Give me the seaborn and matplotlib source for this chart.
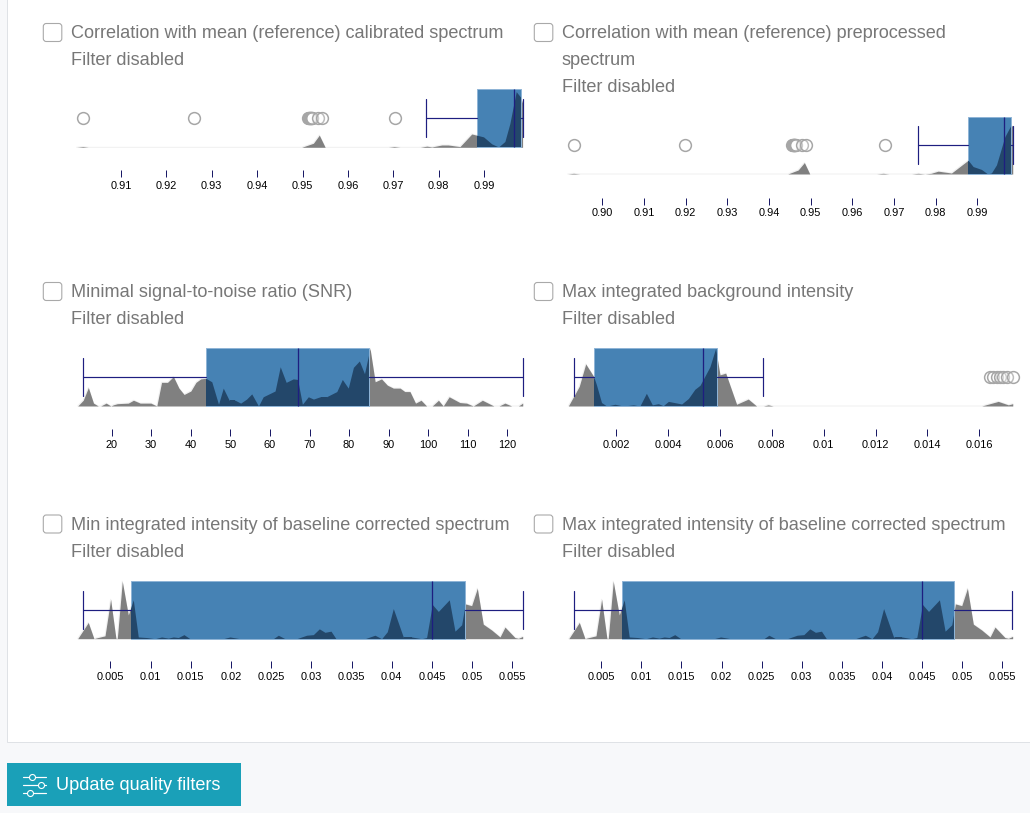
import matplotlib
matplotlib.use("Agg")
import matplotlib.pyplot as plt
from matplotlib.patches import Rectangle, FancyBboxPatch
import seaborn as sns

sns.set_theme(style="white")
plt.rcParams['font.family'] = ['Liberation Sans', 'DejaVu Sans']

# ---------- data ----------
corr_cal_x = [.9002,.9016,.9028,.9498,.9524,.9537,.9550,.9689,.9702,.9715,.9759,.9774,.9785,.9807,.9821,.9847,.9873,.9899,.9917,.9932,.9946,.9957,.9971,.9981,.9985,.9985]
corr_cal_y = [0,.012,0,0,.07,.21,0,0,.012,0,0,.02,.006,.04,.04,.012,.23,.18,.06,.006,.10,.41,.96,.86,.76,0]
corr_cal_box = dict(whislo=.9772, q1=.9885, med=.9967, q3=.9981, whishi=.9985)
corr_cal_out = [.9016,.9261,.9513,.9514,.9515,.9516,.9517,.9518,.9519,.9520,.9522,.9535,.9542,.9703]
corr_cal_ticks = [.91,.92,.93,.94,.95,.96,.97,.98,.99]
corr_cal_labels = ['0.91','0.92','0.93','0.94','0.95','0.96','0.97','0.98','0.99']

corr_pre_x = [.8917,.8931,.8946,.9445,.9470,.9485,.9498,.9658,.9674,.9688,.9742,.9758,.9774,.9789,.9806,.9838,.9878,.9890,.9910,.9925,.9934,.9946,.9966,.9981,.9985,.9985]
corr_pre_y = [0,.012,0,0,.07,.20,0,0,.012,0,0,.012,0,.012,.05,.017,.24,.13,.08,0,.02,.16,.65,.855,.83,0]
corr_pre_box = dict(whislo=.9757, q1=.9878, med=.9965, q3=.9982, whishi=.9985)
corr_pre_out = [.8931,.9198,.9456,.9457,.9458,.9459,.9460,.9461,.9462,.9463,.9465,.9480,.9488,.9678]
corr_pre_ticks = [.90,.91,.92,.93,.94,.95,.96,.97,.98,.99]
corr_pre_labels = ['0.90','0.91','0.92','0.93','0.94','0.95','0.96','0.97','0.98','0.99']

snr_x = [11.4,12.8,14.1,15.4,16.6,17.2,18.6,19.8,20.4,21.4,24.2,25.5,27.2,29.9,31.4,32.6,34.1,35.6,37.0,38.3,40.0,41.3,42.5,43.8,45.3,47.0,48.2,49.7,51.2,52.6,54.1,55.4,57.1,58.3,61.3,62.6,64.1,65.9,67.0,68.2,69.7,71.0,72.7,74.3,76.9,78.3,79.8,81.1,82.6,83.9,85.3,86.6,88.2,89.7,91.2,92.9,94.1,95.4,96.8,98.2,99.6,101.0,102.6,103.8,105.3,108.0,109.7,111.4,113.7,116.6,117.9,119.4,121.1,122.8,123.9,123.9]
snr_y = [0,.10,.32,.05,0,0,.05,0,.02,.04,.05,.10,.05,.05,0,.41,.41,.51,.31,.20,.26,.41,.47,.48,.42,.03,.31,.10,.10,.05,.12,.21,0,.16,.26,.68,.41,.47,.46,.03,.16,.12,.16,.16,.25,.46,.31,.67,.78,.56,1.0,.42,.47,.36,.31,.31,.25,.25,.05,.10,0,0,.10,0,.16,.06,.05,0,.10,0,0,.05,0,0,.05,0]
snr_box = dict(whislo=12.75, q1=43.8, med=67.0, q3=85.0, whishi=123.9)
snr_out = []
snr_ticks = [20,30,40,50,60,70,80,90,100,110,120]
snr_labels = ['20','30','40','50','60','70','80','90','100','110','120']

bg_x = [.00015,.00057,.00082,.00113,.00124,.00143,.00163,.00195,.00227,.00266,.00291,.00316,.00339,.00362,.00381,.00401,.00452,.00478,.00503,.00523,.00561,.00583,.006,.00622,.00664,.00709,.00741,.00767,.00786,.00805,.01609,.01673,.01712,.01729,.01729]
bg_y = [0,.34,.73,.51,.36,.06,0,.03,0,.02,0,.22,.02,.04,.006,.08,.035,.13,.29,.36,.68,1.0,.54,.57,.03,.12,0,0,.02,0,0,.08,.02,.04,0]
bg_box = dict(whislo=.00035, q1=.00113, med=.00536, q3=.00587, whishi=.00766)
bg_out = [.01641,.01654,.01667,.0168,.01692,.01705,.01731]
bg_ticks = [.002,.004,.006,.008,.01,.012,.014,.016]
bg_labels = ['0.002','0.004','0.006','0.008','0.01','0.012','0.014','0.016']

base_x = [.00094,.00226,.00297,.00318,.00434,.00504,.0057,.00587,.00649,.00724,.00786,.00848,.00952,.01056,.01138,.01221,.01284,.01346,.01416,.01491,.01905,.01988,.02113,.02527,.0259,.02673,.02818,.02942,.03025,.031,.0317,.03245,.03307,.03668,.03792,.03875,.03945,.0402,.04144,.04248,.04372,.04434,.04505,.0458,.04716,.04787,.0487,.04915,.04994,.05065,.05139,.05243,.05347,.05409,.05533,.05575,.05629,.05629]
base_y = [0,.28,0,.01,.05,.68,.006,.006,.99,.41,.67,.03,.02,0,.03,.01,.03,.02,.07,0,0,.03,0,0,.06,0,0,.06,.07,.17,.11,.13,0,0,.06,0,.12,.52,.03,.03,0,.02,.59,.47,.67,.13,.24,.60,.57,.87,.25,.15,.03,.20,.02,.006,.04,0]
base_min_box = dict(whislo=.0016, q1=.00761, med=.04505, q3=.04915, whishi=.05629)
base_max_box = dict(whislo=.0016, q1=.00757, med=.04493, q3=.04903, whishi=.05616)
base_out = []
base_ticks = [.005,.01,.015,.02,.025,.03,.035,.04,.045,.05,.055]
base_labels = ['0.005','0.01','0.015','0.02','0.025','0.03','0.035','0.04','0.045','0.05','0.055']

titles = [
    (["Correlation with mean (reference) calibrated spectrum", "Filter disabled"], 43.3, 71, 33.5),
    (["Correlation with mean (reference) preprocessed", "spectrum", "Filter disabled"], 534.3, 561.5, 33.5),
    (["Minimal signal-to-noise ratio (SNR)", "Filter disabled"], 43.3, 71, 292.5),
    (["Max integrated background intensity", "Filter disabled"], 534.3, 561.5, 292.5),
    (["Min integrated intensity of baseline corrected spectrum", "Filter disabled"], 43.3, 71, 525),
    (["Max integrated intensity of baseline corrected spectrum", "Filter disabled"], 534.3, 561.5, 525),
]
button_label = "Update quality filters"

# ---------- layout ----------
W, H = 1030, 813
PX_PT = 72 / 100
GREY, DARK, BLUE, EDGE, NAVY = '#808080', '#23476a', '#4682b4', '#8fb4d6', '#1e1e80'
fig = plt.figure(figsize=(W / 100, H / 100), dpi=100, facecolor='#f7f8fa')

page = fig.add_axes([0, 0, 1, 1], zorder=0)
page.set_xlim(0, W); page.set_ylim(H, 0); page.axis('off')
page.add_patch(Rectangle((7, -2), W, 744, fc='white', ec='#dfe2e6', lw=1 * PX_PT))

for lines, cb_x, tx, y0 in titles:
    page.add_patch(FancyBboxPatch((cb_x + 2, y0 - 8), 14.5, 14, boxstyle="round,pad=2,rounding_size=3",
                                  fc='white', ec='#a9a9a9', lw=1.1 * PX_PT))
    for i, line in enumerate(lines):
        page.text(tx, y0 + i * 27, line, fontsize=18.2 * PX_PT, color='#777777', va='center', ha='left')

page.add_patch(Rectangle((7, 763), 234, 43, fc='#1aa0b8', ec='none'))
page.text(56, 785.5, button_label, fontsize=18.2 * PX_PT, color='white', va='center', ha='left')
for y_i, x_c in [(777, 32), (785, 40.7), (793, 30)]:
    page.plot([23.3, 45.7], [y_i, y_i], color='white', lw=1.2 * PX_PT, solid_capstyle='round')
    page.plot([x_c], [y_i], marker='o', ms=6 * PX_PT, mfc='#1aa0b8', mec='white', mew=1.1 * PX_PT)

panels = [
    (corr_cal_x, corr_cal_y, corr_cal_box, corr_cal_out, corr_cal_ticks, corr_cal_labels, (.91, 121.0, .99, 484.0), 70, 530, 89.3, 147.3, 170),
    (corr_pre_x, corr_pre_y, corr_pre_box, corr_pre_out, corr_pre_ticks, corr_pre_labels, (.90, 602.3, .99, 977.3), 560, 1022, 116.7, 174, 197.5),
    (snr_x, snr_y, snr_box, snr_out, snr_ticks, snr_labels, (20, 111.7, 120, 507.3), 70, 530, 348.3, 406, 429),
    (bg_x, bg_y, bg_box, bg_out, bg_ticks, bg_labels, (.002, 616.3, .016, 979.3), 560, 1022, 348.3, 406, 429),
    (base_x, base_y, base_min_box, base_out, base_ticks, base_labels, (.005, 110.3, .055, 512.3), 70, 530, 580.7, 638.7, 661),
    (base_x, base_y, base_max_box, base_out, base_ticks, base_labels, (.005, 601.3, .055, 1002.3), 560, 1022, 580.7, 638.7, 661),
]

for xs, ys, box, out, ticks, labels, (v0, p0, v1, p1), left, right, top, base, tick_top in panels:
    h = base - top
    ax = fig.add_axes([left / W, 1 - tick_top / H, (right - left) / W, (tick_top - top + 3) / H], zorder=2)
    ax.patch.set_visible(False)
    scale = (v1 - v0) / (p1 - p0)
    ax.set_xlim(v0 + (left - p0) * scale, v0 + (right - p0) * scale)
    ax.set_ylim(-(tick_top - base) / h, 1 + 3 / h)

    sns.lineplot(x=xs, y=ys, ax=ax, color='#f0f0f0', lw=1 * PX_PT, estimator=None, sort=False, zorder=1)
    ax.fill_between(xs, 0, ys, color=GREY, lw=0, zorder=2)

    res = ax.bxp([dict(box, fliers=[])], positions=[0.5], widths=[1.0], orientation='horizontal',
                 patch_artist=True, manage_ticks=False, capwidths=0.66, showfliers=False,
                 boxprops=dict(facecolor=BLUE, edgecolor=EDGE, linewidth=1 * PX_PT),
                 medianprops=dict(color=NAVY, linewidth=1.3 * PX_PT),
                 whiskerprops=dict(color=NAVY, linewidth=1.2 * PX_PT),
                 capprops=dict(color=NAVY, linewidth=1.2 * PX_PT))
    patch = res['boxes'][0]
    patch.set_zorder(3)
    dark = ax.fill_between(xs, 0, ys, color=DARK, lw=0, zorder=4)
    dark.set_clip_path(patch)
    for key in ('medians', 'whiskers', 'caps'):
        for art in res[key]:
            art.set_zorder(5)

    if out:
        sns.scatterplot(x=out, y=[0.5] * len(out), ax=ax, s=72, facecolor=(1, 1, 1, 0.25),
                        edgecolor='#a6a6a6', linewidth=1.5 * PX_PT, zorder=6, clip_on=False)

    ax.set_xticks(ticks)
    ax.set_xticklabels(labels)
    ax.set_yticks([])
    ax.set_xlabel(''); ax.set_ylabel('')
    ax.tick_params(axis='x', bottom=True, length=6.5 * PX_PT, width=1 * PX_PT, color='#1a1a66',
                   labelsize=11 * PX_PT, labelcolor='black', pad=4 * PX_PT)
    for s in ax.spines.values():
        s.set_visible(False)

fig.savefig('out.png', dpi=100, facecolor=fig.get_facecolor())
